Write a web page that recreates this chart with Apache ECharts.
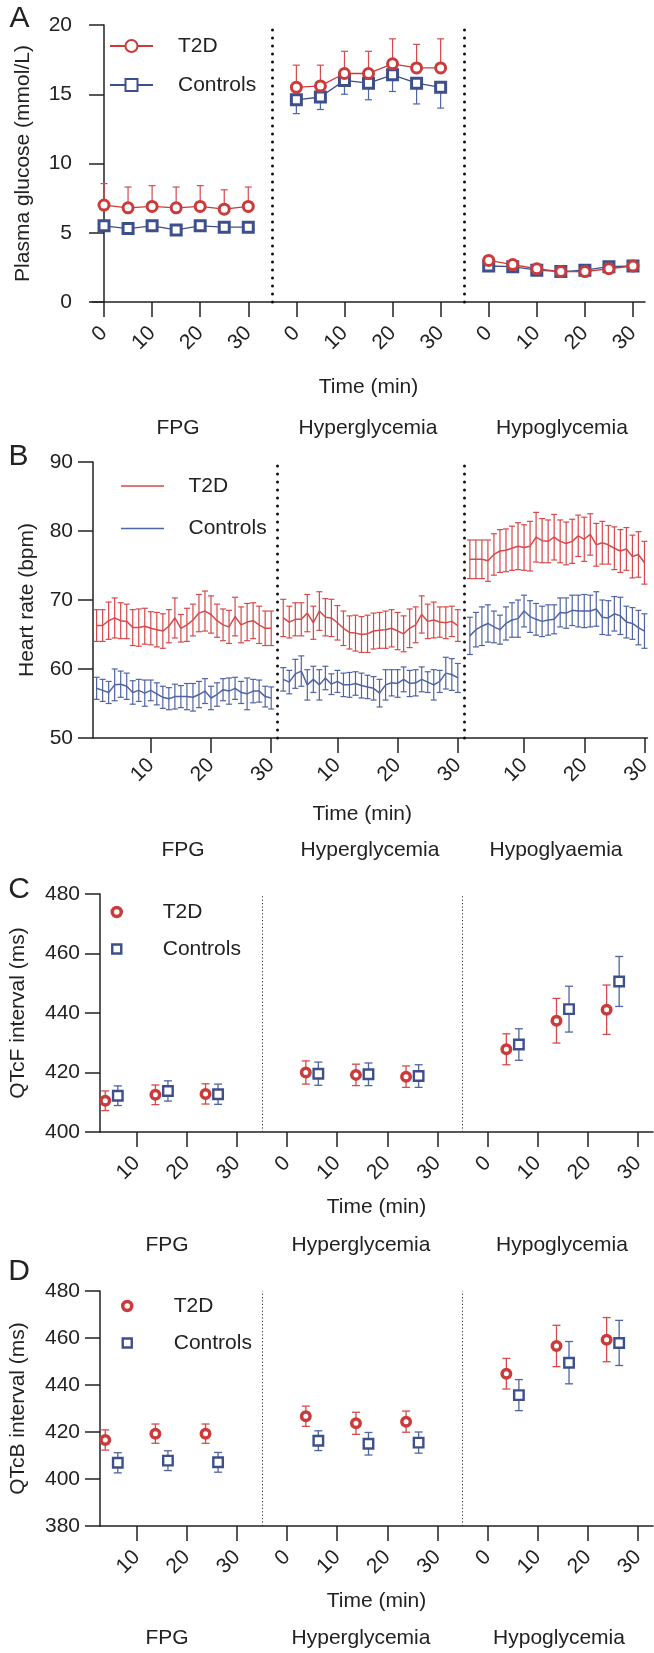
<!DOCTYPE html>
<html><head><meta charset="utf-8">
<script src="https://cdn.jsdelivr.net/npm/echarts@6/dist/echarts.min.js"></script>
<style>html,body{margin:0;padding:0;background:#fff}#c{width:654px;height:1653px}</style>
</head><body><div id="c"></div>
<script>
// ---------- DATA ----------
const phaseNames = ['FPG', 'Hyperglycemia', 'Hypoglycemia'];
const phaseNamesB = ['FPG', 'Hyperglycemia', 'Hypoglyaemia'];

// Panel A: plasma glucose (mmol/L), mean and SD, every 5 min
const glucoseTimes = [0, 5, 10, 15, 20, 25, 30];
const glucoseT2dFpg = [7.0, 6.8, 6.9, 6.8, 6.9, 6.7, 6.9];
const glucoseT2dFpgSd = [1.55, 1.5, 1.5, 1.5, 1.5, 1.4, 1.4];
const glucoseT2dHyper = [15.5, 15.6, 16.5, 16.5, 17.2, 16.9, 16.9];
const glucoseT2dHyperSd = [1.6, 1.5, 1.6, 1.6, 1.8, 1.7, 2.1];
const glucoseT2dHypo = [3.0, 2.7, 2.4, 2.2, 2.2, 2.4, 2.6];
const glucoseT2dHypoSd = [0.3, 0.3, 0.3, 0.3, 0.3, 0.3, 0.3];
const glucoseCtrlFpg = [5.5, 5.3, 5.5, 5.2, 5.5, 5.4, 5.4];
const glucoseCtrlFpgSd = [0.3, 0.3, 0.3, 0.3, 0.3, 0.3, 0.3];
const glucoseCtrlHyper = [14.6, 14.8, 16.0, 15.8, 16.4, 15.8, 15.5];
const glucoseCtrlHyperSd = [1.0, 0.9, 1.0, 1.2, 1.2, 1.5, 1.5];
const glucoseCtrlHypo = [2.6, 2.55, 2.3, 2.2, 2.3, 2.55, 2.6];
const glucoseCtrlHypoSd = [0.3, 0.3, 0.3, 0.3, 0.3, 0.3, 0.3];

// Panel B: heart rate (bpm), mean and SEM, every minute
const hrMinutes = [1,2,3,4,5,6,7,8,9,10,11,12,13,14,15,16,17,18,19,20,21,22,23,24,25,26,27,28,29,30];
const hrT2dFpg = [66.3,66.3,67.0,67.4,67.0,66.9,66.0,66.0,66.2,65.9,65.7,65.5,66.2,67.4,65.9,66.4,67.1,68.1,68.4,67.9,67.0,66.4,66.1,67.6,66.4,66.8,67.0,66.4,65.9,65.9];
const hrT2dFpgSem = [2.3,2.3,2.7,2.9,2.6,2.5,2.6,2.7,2.6,2.4,2.5,2.5,2.4,2.9,2.0,2.4,2.3,2.7,2.9,2.7,2.4,2.3,2.4,2.8,2.6,2.7,2.6,2.7,2.5,2.5];
const hrT2dHyper = [67.4,66.8,67.2,67.2,68.1,66.7,68.4,67.5,67.4,66.7,65.9,65.3,65.2,65.0,65.1,65.5,65.6,65.7,65.9,65.5,65.1,65.9,66.4,67.9,66.9,67.1,66.8,66.7,66.9,66.3];
const hrT2dHyperSem = [2.7,2.3,2.4,2.4,2.7,2.4,2.8,2.7,2.7,2.5,2.5,2.4,2.6,2.6,2.7,2.6,2.6,2.7,2.7,2.7,2.6,2.8,2.6,2.7,2.5,2.6,2.2,2.3,2.2,2.3];
const hrT2dHypo = [75.9,75.9,75.9,75.7,76.6,77.1,77.2,77.5,77.8,77.6,77.8,79.1,78.6,78.5,79.1,78.5,78.2,78.5,79.3,78.8,79.5,78.0,78.3,78.0,77.5,77.1,77.4,76.3,76.6,75.4];
const hrT2dHypoSem = [2.8,2.8,2.8,3.0,3.0,3.1,3.1,3.2,3.4,3.3,3.6,3.6,3.2,3.1,3.3,3.1,3.1,3.2,3.0,3.2,3.0,3.1,3.1,2.8,3.1,3.1,3.1,3.1,3.3,3.1];
const hrCtrlFpg = [57.2,56.9,56.6,57.7,57.8,57.5,56.6,56.9,56.5,56.9,56.4,55.9,55.7,56.0,56.0,56.0,55.9,56.3,56.8,55.8,56.3,57.0,56.8,57.2,56.6,56.4,56.8,56.8,56.0,55.8];
const hrCtrlFpgSem = [1.6,1.6,1.6,2.3,1.9,1.9,1.7,1.6,1.9,1.5,1.6,1.6,1.6,1.8,1.6,1.9,2.0,1.9,1.8,1.7,1.7,1.6,1.9,1.6,1.6,2.3,1.7,1.6,1.5,1.6];
const hrCtrlHyper = [58.5,58.1,59.3,59.7,57.7,58.5,57.7,58.7,57.8,58.2,57.7,57.7,57.9,57.6,57.4,57.2,56.5,57.7,58.0,57.9,58.5,57.9,58.0,58.5,58.1,57.7,58.2,59.4,59.2,58.7];
const hrCtrlHyperSem = [1.7,1.7,2.1,2.2,2.2,1.9,2.2,1.7,1.5,1.6,1.7,1.8,1.7,1.8,1.7,1.7,2.0,2.2,1.9,2.0,1.8,1.9,1.9,1.8,1.5,2.2,1.6,2.3,2.3,2.1];
const hrCtrlHypo = [64.8,65.7,66.2,66.6,66.1,65.7,66.6,67.1,67.3,68.4,67.6,67.2,66.9,67.1,67.2,68.2,68.1,68.5,68.4,68.4,68.4,68.7,67.5,67.4,68.0,67.7,66.8,66.6,66.0,65.5];
const hrCtrlHypoSem = [2.7,2.5,2.8,2.7,2.3,2.1,2.4,2.5,2.7,2.3,2.3,2.3,2.2,2.2,2.1,2.1,2.2,2.2,2.3,2.4,2.3,2.5,2.5,2.5,2.5,2.7,2.3,2.3,2.5,2.5];
const hrTickValues = [10, 20, 30, 41, 51, 61, 72, 82, 92];
const hrTickLabels = ['10', '20', '30', '10', '20', '30', '10', '20', '30'];

// Panels C and D: QT intervals (ms), mean and SEM, per 10-min window (FPG, hyper, hypo)
const qtTimes = [5, 15, 25];
const qtcfT2d = [410.5, 412.5, 412.8, 420.0, 419.2, 418.6, 427.8, 437.4, 441.1];
const qtcfT2dSem = [3.3, 3.3, 3.4, 3.9, 3.6, 3.6, 5.2, 7.5, 8.3];
const qtcfCtrl = [412.2, 413.8, 412.7, 419.6, 419.4, 418.8, 429.4, 441.3, 450.6];
const qtcfCtrlSem = [3.3, 3.4, 3.4, 3.9, 3.8, 3.8, 5.3, 7.7, 8.4];
const qtcbT2d = [416.6, 419.3, 419.3, 426.7, 423.7, 424.4, 444.8, 456.6, 459.3];
const qtcbT2dSem = [4.3, 4.1, 4.1, 4.3, 4.7, 4.5, 6.5, 8.8, 9.4];
const qtcbCtrl = [406.9, 407.8, 407.1, 416.3, 415.0, 415.5, 435.7, 449.5, 457.9];
const qtcbCtrlSem = [4.3, 4.2, 4.2, 4.2, 4.8, 4.5, 6.6, 9.0, 9.6];
const qtTickValues = [10, 20, 30, 40, 50, 60, 70, 80, 90, 100, 110];
const glucoseTickValues = [0, 10, 20, 30, 40, 50, 60, 70, 80, 90, 100, 110];

// ---------- STYLE / BUILD ----------
const FONT = 'Arial, "Liberation Sans", Helvetica, sans-serif';
const FS = 21;
const INK = '#222';
const RED = '#cc3a3a', BLUE = '#3d4f8c';
const RED_B = '#d54a4a', BLUE_B = '#5064a4';
const PHASE_GAP = 40;   // A, C, D phase offset on the shared time axis
const PHASE_GAP_B = 31; // B phase offset
const DODGE = 1.25;     // C, D horizontal dodge between groups

function errSeries(xi, yi, data, color, mode, capW, lw) {
  return {
    type: 'custom', name: 'err', xAxisIndex: xi, yAxisIndex: yi, silent: true, z: 2,
    data: data, encode: { x: 0, y: [1, 2] },
    renderItem: function (params, api) {
      const x = api.value(0), lo = api.value(1), hi = api.value(2);
      const a = api.coord([x, lo]), b = api.coord([x, hi]);
      const st = { stroke: color, lineWidth: lw, fill: null };
      const ch = [{ type: 'line', shape: { x1: a[0], y1: a[1], x2: b[0], y2: b[1] }, style: st }];
      if (mode !== 'low') ch.push({ type: 'line', shape: { x1: b[0] - capW / 2, y1: b[1], x2: b[0] + capW / 2, y2: b[1] }, style: st });
      if (mode !== 'high') ch.push({ type: 'line', shape: { x1: a[0] - capW / 2, y1: a[1], x2: a[0] + capW / 2, y2: a[1] }, style: st });
      return { type: 'group', children: ch };
    }
  };
}

function xAxisBase(gi, min, max, ticks, fmt, nameGap, margin, namePad) {
  return {
    type: 'value', gridIndex: gi, min: min, max: max,
    name: 'Time (min)', nameLocation: 'middle', nameGap: nameGap,
    nameTextStyle: { fontFamily: FONT, fontSize: FS, color: INK, padding: namePad || 0 },
    axisLine: { show: true, lineStyle: { color: INK, width: 1.5 } },
    axisTick: { show: true, customValues: ticks, length: 15, lineStyle: { color: INK, width: 1.5 } },
    axisLabel: { customValues: ticks, rotate: 45, margin: margin, formatter: fmt, fontFamily: FONT, fontSize: FS, color: INK },
    splitLine: { show: false }
  };
}
function yAxisBase(gi, min, max, interval, name, nameGap) {
  return {
    type: 'value', gridIndex: gi, min: min, max: max, interval: interval,
    name: name, nameLocation: 'middle', nameGap: nameGap,
    nameTextStyle: { fontFamily: FONT, fontSize: FS, color: INK },
    axisLine: { show: true, lineStyle: { color: INK, width: 1.5 } },
    axisTick: { show: true, length: 15, lineStyle: { color: INK, width: 1.5 } },
    axisLabel: { margin: 20, fontFamily: FONT, fontSize: FS, color: INK },
    splitLine: { show: false }
  };
}

const series = [];
// ---- Panel A ----
const aSets = [
  [glucoseCtrlFpg, glucoseCtrlFpgSd, glucoseT2dFpg, glucoseT2dFpgSd],
  [glucoseCtrlHyper, glucoseCtrlHyperSd, glucoseT2dHyper, glucoseT2dHyperSd],
  [glucoseCtrlHypo, glucoseCtrlHypoSd, glucoseT2dHypo, glucoseT2dHypoSd]
];
const dotLineA = { silent: true, symbol: ['none', 'none'], label: { show: false }, emphasis: { disabled: true },
  lineStyle: { color: '#111', type: [0.1, 7.9], width: 3, cap: 'round' } };
aSets.forEach(function (s, p) {
  const off = p * PHASE_GAP;
  series.push(errSeries(0, 0, glucoseTimes.map((t, i) => [t + off, s[0][i] - s[1][i], s[0][i]]), BLUE_B, 'low', 7, 1.2));
  series.push(errSeries(0, 0, glucoseTimes.map((t, i) => [t + off, s[2][i], s[2][i] + s[3][i]]), RED_B, 'high', 7, 1.2));
});
aSets.forEach(function (s, p) {
  const off = p * PHASE_GAP;
  const ctrl = {
    type: 'line', name: 'A:Controls', xAxisIndex: 0, yAxisIndex: 0, z: 3,
    data: glucoseTimes.map((t, i) => [t + off, s[0][i]]),
    symbol: 'rect', symbolSize: 10, showSymbol: true,
    itemStyle: { color: '#fff', borderColor: BLUE, borderWidth: 3 },
    lineStyle: { color: BLUE, width: 1.3 }, emphasis: { disabled: true }
  };
  if (p === 0) ctrl.markLine = Object.assign({ data: [{ xAxis: 35 }, { xAxis: 75 }] }, dotLineA);
  series.push(ctrl);
});
aSets.forEach(function (s, p) {
  const off = p * PHASE_GAP;
  series.push({
    type: 'line', name: 'A:T2D', xAxisIndex: 0, yAxisIndex: 0, z: 4,
    data: glucoseTimes.map((t, i) => [t + off, s[2][i]]),
    symbol: 'circle', symbolSize: 10, showSymbol: true,
    itemStyle: { color: '#fff', borderColor: RED, borderWidth: 3 },
    lineStyle: { color: RED, width: 1.3 }, emphasis: { disabled: true }
  });
});

// ---- Panel B ----
const bSets = [
  [hrCtrlFpg, hrCtrlFpgSem, hrT2dFpg, hrT2dFpgSem],
  [hrCtrlHyper, hrCtrlHyperSem, hrT2dHyper, hrT2dHyperSem],
  [hrCtrlHypo, hrCtrlHypoSem, hrT2dHypo, hrT2dHypoSem]
];
bSets.forEach(function (s, p) {
  const off = p * PHASE_GAP_B;
  series.push(errSeries(1, 1, hrMinutes.map((t, i) => [t + off, s[0][i] - s[1][i], s[0][i] + s[1][i]]), BLUE_B, 'both', 6, 1.2));
  series.push(errSeries(1, 1, hrMinutes.map((t, i) => [t + off, s[2][i] - s[3][i], s[2][i] + s[3][i]]), RED_B, 'both', 6, 1.2));
  const ctrl = {
    type: 'line', name: 'B:Controls', xAxisIndex: 1, yAxisIndex: 1, z: 3,
    data: hrMinutes.map((t, i) => [t + off, s[0][i]]), symbol: 'none', showSymbol: false,
    itemStyle: { color: BLUE_B }, lineStyle: { color: BLUE_B, width: 1.5 }, emphasis: { disabled: true }
  };
  if (p === 0) ctrl.markLine = Object.assign({ data: [{ xAxis: 31 }, { xAxis: 62 }] }, dotLineA);
  series.push(ctrl);
  series.push({
    type: 'line', name: 'B:T2D', xAxisIndex: 1, yAxisIndex: 1, z: 3,
    data: hrMinutes.map((t, i) => [t + off, s[2][i]]), symbol: 'none', showSymbol: false,
    itemStyle: { color: RED_B }, lineStyle: { color: RED_B, width: 1.5 }, emphasis: { disabled: true }
  });
});

// ---- Panels C and D ----
const dotLineQ = { silent: true, symbol: ['none', 'none'], label: { show: false }, emphasis: { disabled: true },
  lineStyle: { color: '#333', type: [1.2, 2.2], width: 1 } };
function qtPanel(gi, prefix, t2d, t2dSem, ctrl, ctrlSem) {
  const xs = [];
  for (let p = 0; p < 3; p++) qtTimes.forEach(t => xs.push(t + p * PHASE_GAP));
  series.push(errSeries(gi, gi, xs.map((x, i) => [x - DODGE, t2d[i] - t2dSem[i], t2d[i] + t2dSem[i]]), RED_B, 'both', 8, 1.3));
  series.push(errSeries(gi, gi, xs.map((x, i) => [x + DODGE, ctrl[i] - ctrlSem[i], ctrl[i] + ctrlSem[i]]), BLUE_B, 'both', 8, 1.3));
  series.push({
    type: 'scatter', name: prefix + ':T2D', xAxisIndex: gi, yAxisIndex: gi, z: 4,
    data: xs.map((x, i) => [x - DODGE, t2d[i]]), symbol: 'circle', symbolSize: 8.5,
    itemStyle: { color: '#fff', borderColor: RED, borderWidth: 3.5, opacity: 1 }, emphasis: { disabled: true },
    markLine: Object.assign({ data: [{ xAxis: 35 }, { xAxis: 75 }] }, dotLineQ)
  });
  series.push({
    type: 'scatter', name: prefix + ':Controls', xAxisIndex: gi, yAxisIndex: gi, z: 4,
    data: xs.map((x, i) => [x + DODGE, ctrl[i]]), symbol: 'rect', symbolSize: 9.5,
    itemStyle: { color: '#fff', borderColor: BLUE, borderWidth: 2.4, opacity: 1 }, emphasis: { disabled: true }
  });
}
qtPanel(2, 'C', qtcfT2d, qtcfT2dSem, qtcfCtrl, qtcfCtrlSem);
qtPanel(3, 'D', qtcbT2d, qtcbT2dSem, qtcbCtrl, qtcbCtrlSem);

function legendAt(prefix, left, top, gap, iw, ih, pad, extra) {
  return Object.assign({
    orient: 'vertical', left: left, top: top, itemGap: gap, itemWidth: iw, itemHeight: ih,
    data: [prefix + ':T2D', prefix + ':Controls'], selectedMode: false,
    formatter: n => n.split(':')[1],
    textStyle: { fontFamily: FONT, fontSize: FS, color: INK, lineHeight: 22, padding: [0, 0, 0, pad] }
  }, extra || {});
}

function txt(x, y, s, size) {
  return { type: 'text', x: x, y: y, silent: true,
    style: { text: s, fontFamily: FONT, fontSize: size, fill: INK, align: 'center', verticalAlign: 'middle' } };
}
const graphics = [
  txt(19.5, 19, 'A', 30), txt(18.5, 457, 'B', 30), txt(19, 890, 'C', 30), txt(19, 1272, 'D', 30)
];
[[428, [178, 368, 562], phaseNames], [850, [183, 370, 556], phaseNamesB],
 [1245, [167, 361, 562], phaseNames], [1638, [167, 361, 559], phaseNames]].forEach(function (r) {
  r[2].forEach((s, i) => graphics.push(txt(r[1][i], r[0], s, FS)));
});

const qtLegendData = p => [
  { name: p + ':T2D', itemStyle: { borderWidth: 3.5 } },
  { name: p + ':Controls', itemStyle: { borderWidth: 2.4 } }
];

const option = {
  animation: false,
  backgroundColor: '#fff',
  textStyle: { fontFamily: FONT },
  grid: [
    { left: 92, right: 9, top: 25, height: 277 },
    { left: 93, right: 3, top: 462, height: 276 },
    { left: 95, right: 1, top: 894, height: 238 },
    { left: 95, right: 1, top: 1291, height: 235 }
  ],
  xAxis: [
    xAxisBase(0, -2.5, 112.5, glucoseTickValues, v => String(v % PHASE_GAP), 75, 28),
    xAxisBase(1, 0.4, 92.5, hrTickValues, v => hrTickLabels[hrTickValues.indexOf(v)], 66, 24, [0, 16, 0, 0]),
    xAxisBase(2, 2.7, 113, qtTickValues, v => String(v % PHASE_GAP), 65, 28),
    xAxisBase(3, 2.7, 113, qtTickValues, v => String(v % PHASE_GAP), 65, 28)
  ],
  yAxis: [
    yAxisBase(0, 0, 20, 5, 'Plasma glucose (mmol/L)', 58),
    yAxisBase(1, 50, 90, 10, 'Heart rate (bpm)', 55),
    yAxisBase(2, 400, 480, 20, 'QTcF interval (ms)', 71),
    yAxisBase(3, 380, 480, 20, 'QTcB interval (ms)', 71)
  ],
  legend: [
    legendAt('A', 104, 30, 17, 43, 15, 20),
    legendAt('B', 116, 470, 20.6, 43, 1.5, 19.5, { icon: 'rect' }),
    legendAt('C', 105.5, 896, 15, 9, 9, 36.5, { data: qtLegendData('C') }),
    legendAt('D', 116, 1290, 15, 9, 9, 37, { data: qtLegendData('D') })
  ],
  graphic: graphics,
  series: series
};
const chart = echarts.init(document.getElementById('c'));
chart.setOption(option);
</script></body></html>
